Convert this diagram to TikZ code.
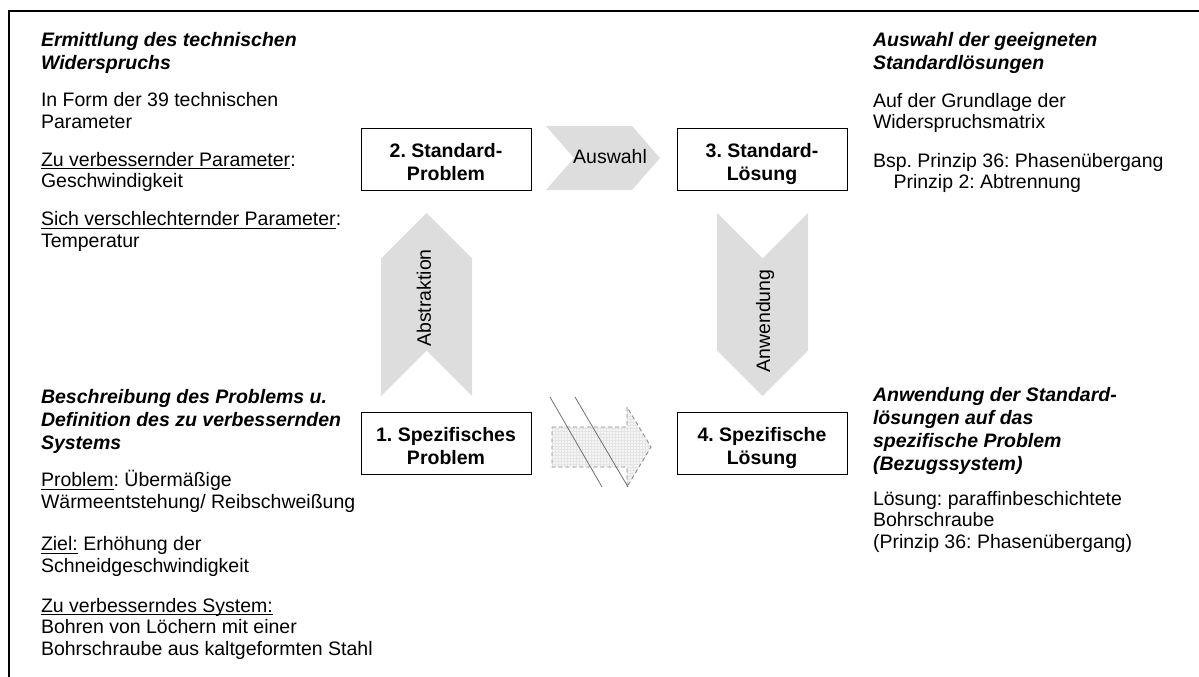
\documentclass[tikz,border=0pt]{standalone}
\usepackage{fontspec}
\setmainfont{Liberation Sans}
\usetikzlibrary{patterns}
\definecolor{chevgray}{HTML}{DDDDDD}
\definecolor{dashgray}{HTML}{8C8C8C}
\definecolor{strikegray}{HTML}{707070}
\frenchspacing
% underline drawn close to the baseline
\newsavebox{\ulinbox}
\newcommand{\ulin}[1]{\sbox{\ulinbox}{#1}\rlap{\rule[-3.2pt]{\wd\ulinbox}{1.1pt}}\usebox{\ulinbox}}
\begin{document}
\begin{tikzpicture}[x=1pt,y=-1pt,
  every node/.style={inner sep=0pt, outer sep=0pt},
  stepbox/.style={draw=black, line width=0.9pt, minimum width=170pt, minimum height=62pt},
  % multi-line texts are placed by the baseline of their last line
  boxtext/.style={font=\bfseries\fontsize{19.5}{23.5}\selectfont, align=center, anchor=base},
  headtext/.style={font=\bfseries\itshape\fontsize{19.5}{23}\selectfont, align=left, anchor=base west},
  bodytext/.style={font=\fontsize{19.5}{21.5}\selectfont, align=left, anchor=base west},
  chevtext/.style={font=\fontsize{19.5}{21.5}\selectfont},
  chev/.style={fill=chevgray}]
\useasboundingbox (0,0) rectangle (1199,677);

% open frame (top and left edge)
\draw[line width=1.6pt] (9,677) -- (9,11) -- (1199,11);

% process steps
\node[stepbox] (b2) at (446,159) {};
\node[stepbox] (b3) at (762,159) {};
\node[stepbox] (b1) at (446,443) {};
\node[stepbox] (b4) at (762,443) {};
\node[boxtext] (t2) at (b2.north |- 0,180.5) {2. Standard-\\Problem};
\node[boxtext] (t3) at (b3.north |- 0,180.5) {3. Standard-\\Lösung};
\node[boxtext] (t1) at (b1.north |- 0,464.5) {1. Spezifisches\\Problem};
\node[boxtext] (t4) at (b4.north |- 0,464.5) {4. Spezifische\\Lösung};

% chevron: Auswahl (2 -> 3)
\fill[chev] (546,126) -- (632,126) -- (660,158) -- (632,190) -- (546,190) -- (574,158) -- cycle;
\node[chevtext, anchor=base] (auswahl) at (610,163) {Auswahl};

% chevron: Abstraktion (1 -> 2)
\fill[chev] (381,396) -- (381,258.5) -- (426.5,213) -- (472,258.5) -- (472,396) -- (426.5,350.5) -- cycle;
\node[chevtext, rotate=90] (abstr) at (424,298) {Abstraktion};

% chevron: Anwendung (3 -> 4)
\fill[chev] (717,213) -- (762.5,258.5) -- (808,213) -- (808,350.5) -- (762.5,396) -- (717,350.5) -- cycle;
\node[chevtext, rotate=90] (anw) at (765,321) {Anwendung};

% crossed-out direct path (1 -> 4)
\path[fill=gray!8] (552,427) -- (627,427) -- (627,407) -- (651,447) -- (627,487) -- (627,467) -- (552,467) -- cycle;
\path[pattern=grid, pattern color=gray!20] (552,427) -- (627,427) -- (627,407) -- (651,447) -- (627,487) -- (627,467) -- (552,467) -- cycle;
\draw[dashgray, line width=0.9pt, dash pattern=on 4pt off 3pt] (552,427) -- (627,427) -- (627,407) -- (651,447) -- (627,487) -- (627,467) -- (552,467) -- cycle;
\draw[strikegray, line width=0.8pt] (550,397) -- (602,487);
\draw[strikegray, line width=0.8pt] (575,397) -- (628,487);

% upper left: technical contradiction
\node[headtext] (h2) at (41,70) {Ermittlung des technischen\\Widerspruchs};
\node[bodytext] (d2) at (41,247) {In Form der 39 technischen\\Parameter\\[16.5pt]
  \ulin{Zu verbessernder Parameter}:\\Geschwindigkeit\\[16.5pt]
  \ulin{Sich verschlechternder Parameter}:\\Temperatur};

% upper right: standard solutions
\node[headtext] (h3) at (873,70) {Auswahl der geeigneten\\Standardlösungen};
\node[bodytext] (d3) at (873,188.5) {Auf der Grundlage der\\Widerspruchsmatrix\\[17pt]
  Bsp. Prinzip 36: Phasenübergang\\\hspace*{20.5pt}Prinzip 2: Abtrennung};

% lower left: problem description
\node[headtext] (h1) at (41,449) {Beschreibung des Problems u.\\Definition des zu verbessernden\\Systems};
\node[bodytext] (d1) at (41,655) {\ulin{Problem}: Übermäßige\\Wärmeentstehung/ Reibschweißung\\[21pt]
  \ulin{Ziel:} Erhöhung der\\Schneidgeschwindigkeit\\[18.5pt]
  \ulin{Zu verbesserndes System:}\\Bohren von Löchern mit einer\\Bohrschraube aus kaltgeformten Stahl};

% lower right: specific solution
\node[headtext] (h4) at (873,470) {Anwendung der Standard-\\lösungen auf das\\spezifische Problem\\(Bezugssystem)};
\node[bodytext] (d4) at (873,548) {Lösung: paraffinbeschichtete\\Bohrschraube\\(Prinzip 36: Phasenübergang)};
\end{tikzpicture}
\end{document}
